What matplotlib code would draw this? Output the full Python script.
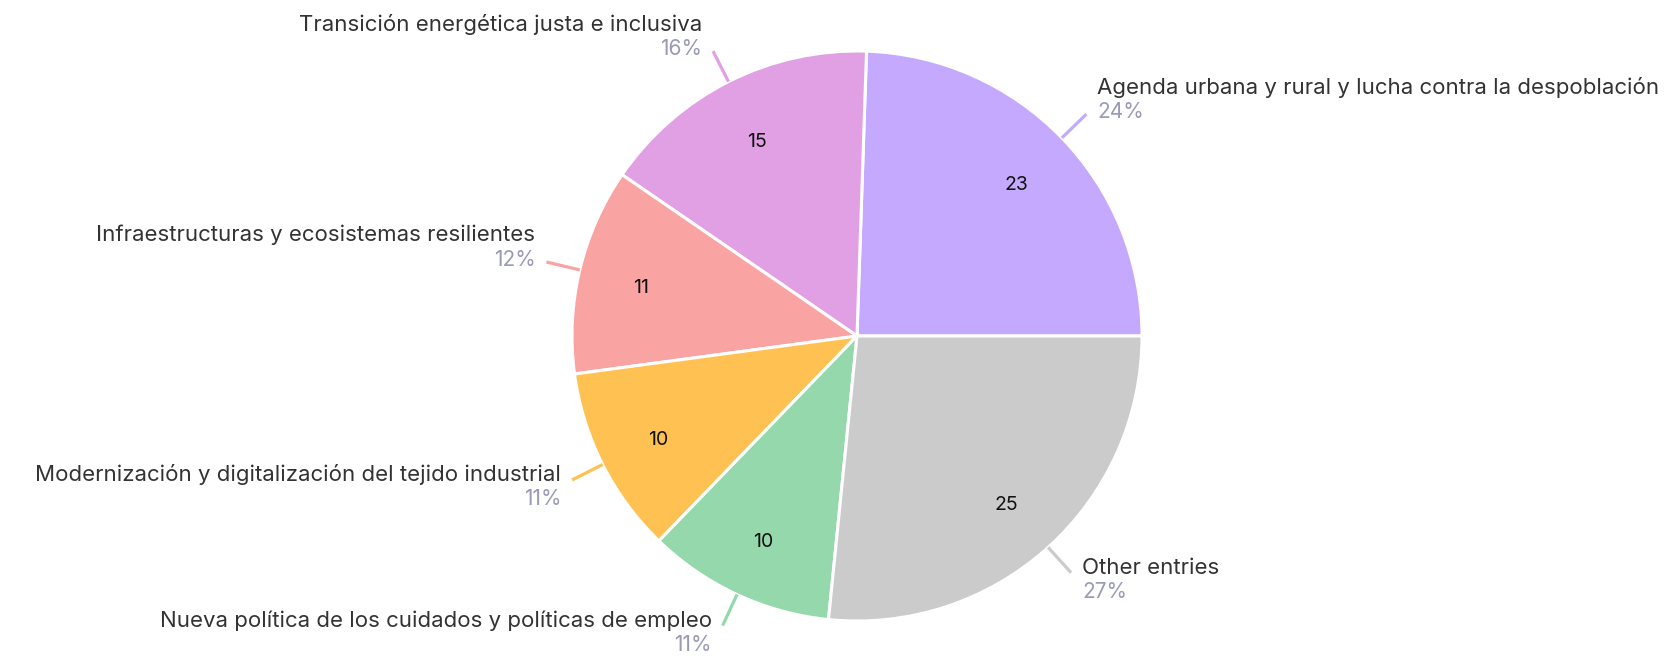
import numpy as np
import matplotlib
matplotlib.use("Agg")
import matplotlib.pyplot as plt

categories = [
    "Agenda urbana y rural y lucha contra la despoblación",
    "Transición energética justa e inclusiva",
    "Infraestructuras y ecosistemas resilientes",
    "Modernización y digitalización del tejido industrial",
    "Nueva política de los cuidados y políticas de empleo",
    "Other entries",
]
values = [23, 15, 11, 10, 10, 25]
colors = ["#c5a9fe", "#e2a0e4", "#faa3a3", "#ffc151", "#94d8ac", "#cbcbcb"]

plt.rcParams['font.family'] = ['Inter', 'DejaVu Sans']

W, H = 1680, 660
fig = plt.figure(figsize=(W / 100, H / 100), dpi=100)
ax = fig.add_axes([0, 0, 1, 1])
cx, cy, R = 857, 324, 285

wedges, _ = ax.pie(values, colors=colors, startangle=0, counterclock=True,
                   center=(cx, cy), radius=R,
                   wedgeprops=dict(edgecolor="white", linewidth=2.2))

total = sum(values)
for w, v, name, col in zip(wedges, values, categories, colors):
    mid = np.deg2rad((w.theta1 + w.theta2) / 2)
    c, s = np.cos(mid), np.sin(mid)
    # inside value
    ax.text(cx + 0.78 * R * c, cy + 0.78 * R * s - 4, f"{v}", ha="center", va="center",
            fontsize=14, color="#111111")
    # leader line
    x0, y0 = cx + 1.0 * R * c, cy + 1.0 * R * s
    x1, y1 = cx + 1.12 * R * c, cy + 1.12 * R * s
    ax.plot([x0, x1], [y0, y1], color=col, lw=2.3, solid_capstyle="butt")
    ha = "left" if c > 0 else "right"
    tx = x1 + (11 if c > 0 else -11)
    pct = f"{round(v / total * 100)}%"
    if s > 0:
        py = y1 + 2
        ny = py + 25
    else:
        ny = y1 + 5
        py = ny - 24
    ax.text(tx, ny, name, ha=ha, va="center", fontsize=16, color="#333333")
    ax.text(tx, py, pct, ha=ha, va="center", fontsize=15, color="#9a9ab6")

ax.set_xlim(0, W)
ax.set_ylim(0, H)
ax.set_aspect("equal", adjustable="box")
ax.axis("off")
fig.savefig("out.png", dpi=100, facecolor="white")
